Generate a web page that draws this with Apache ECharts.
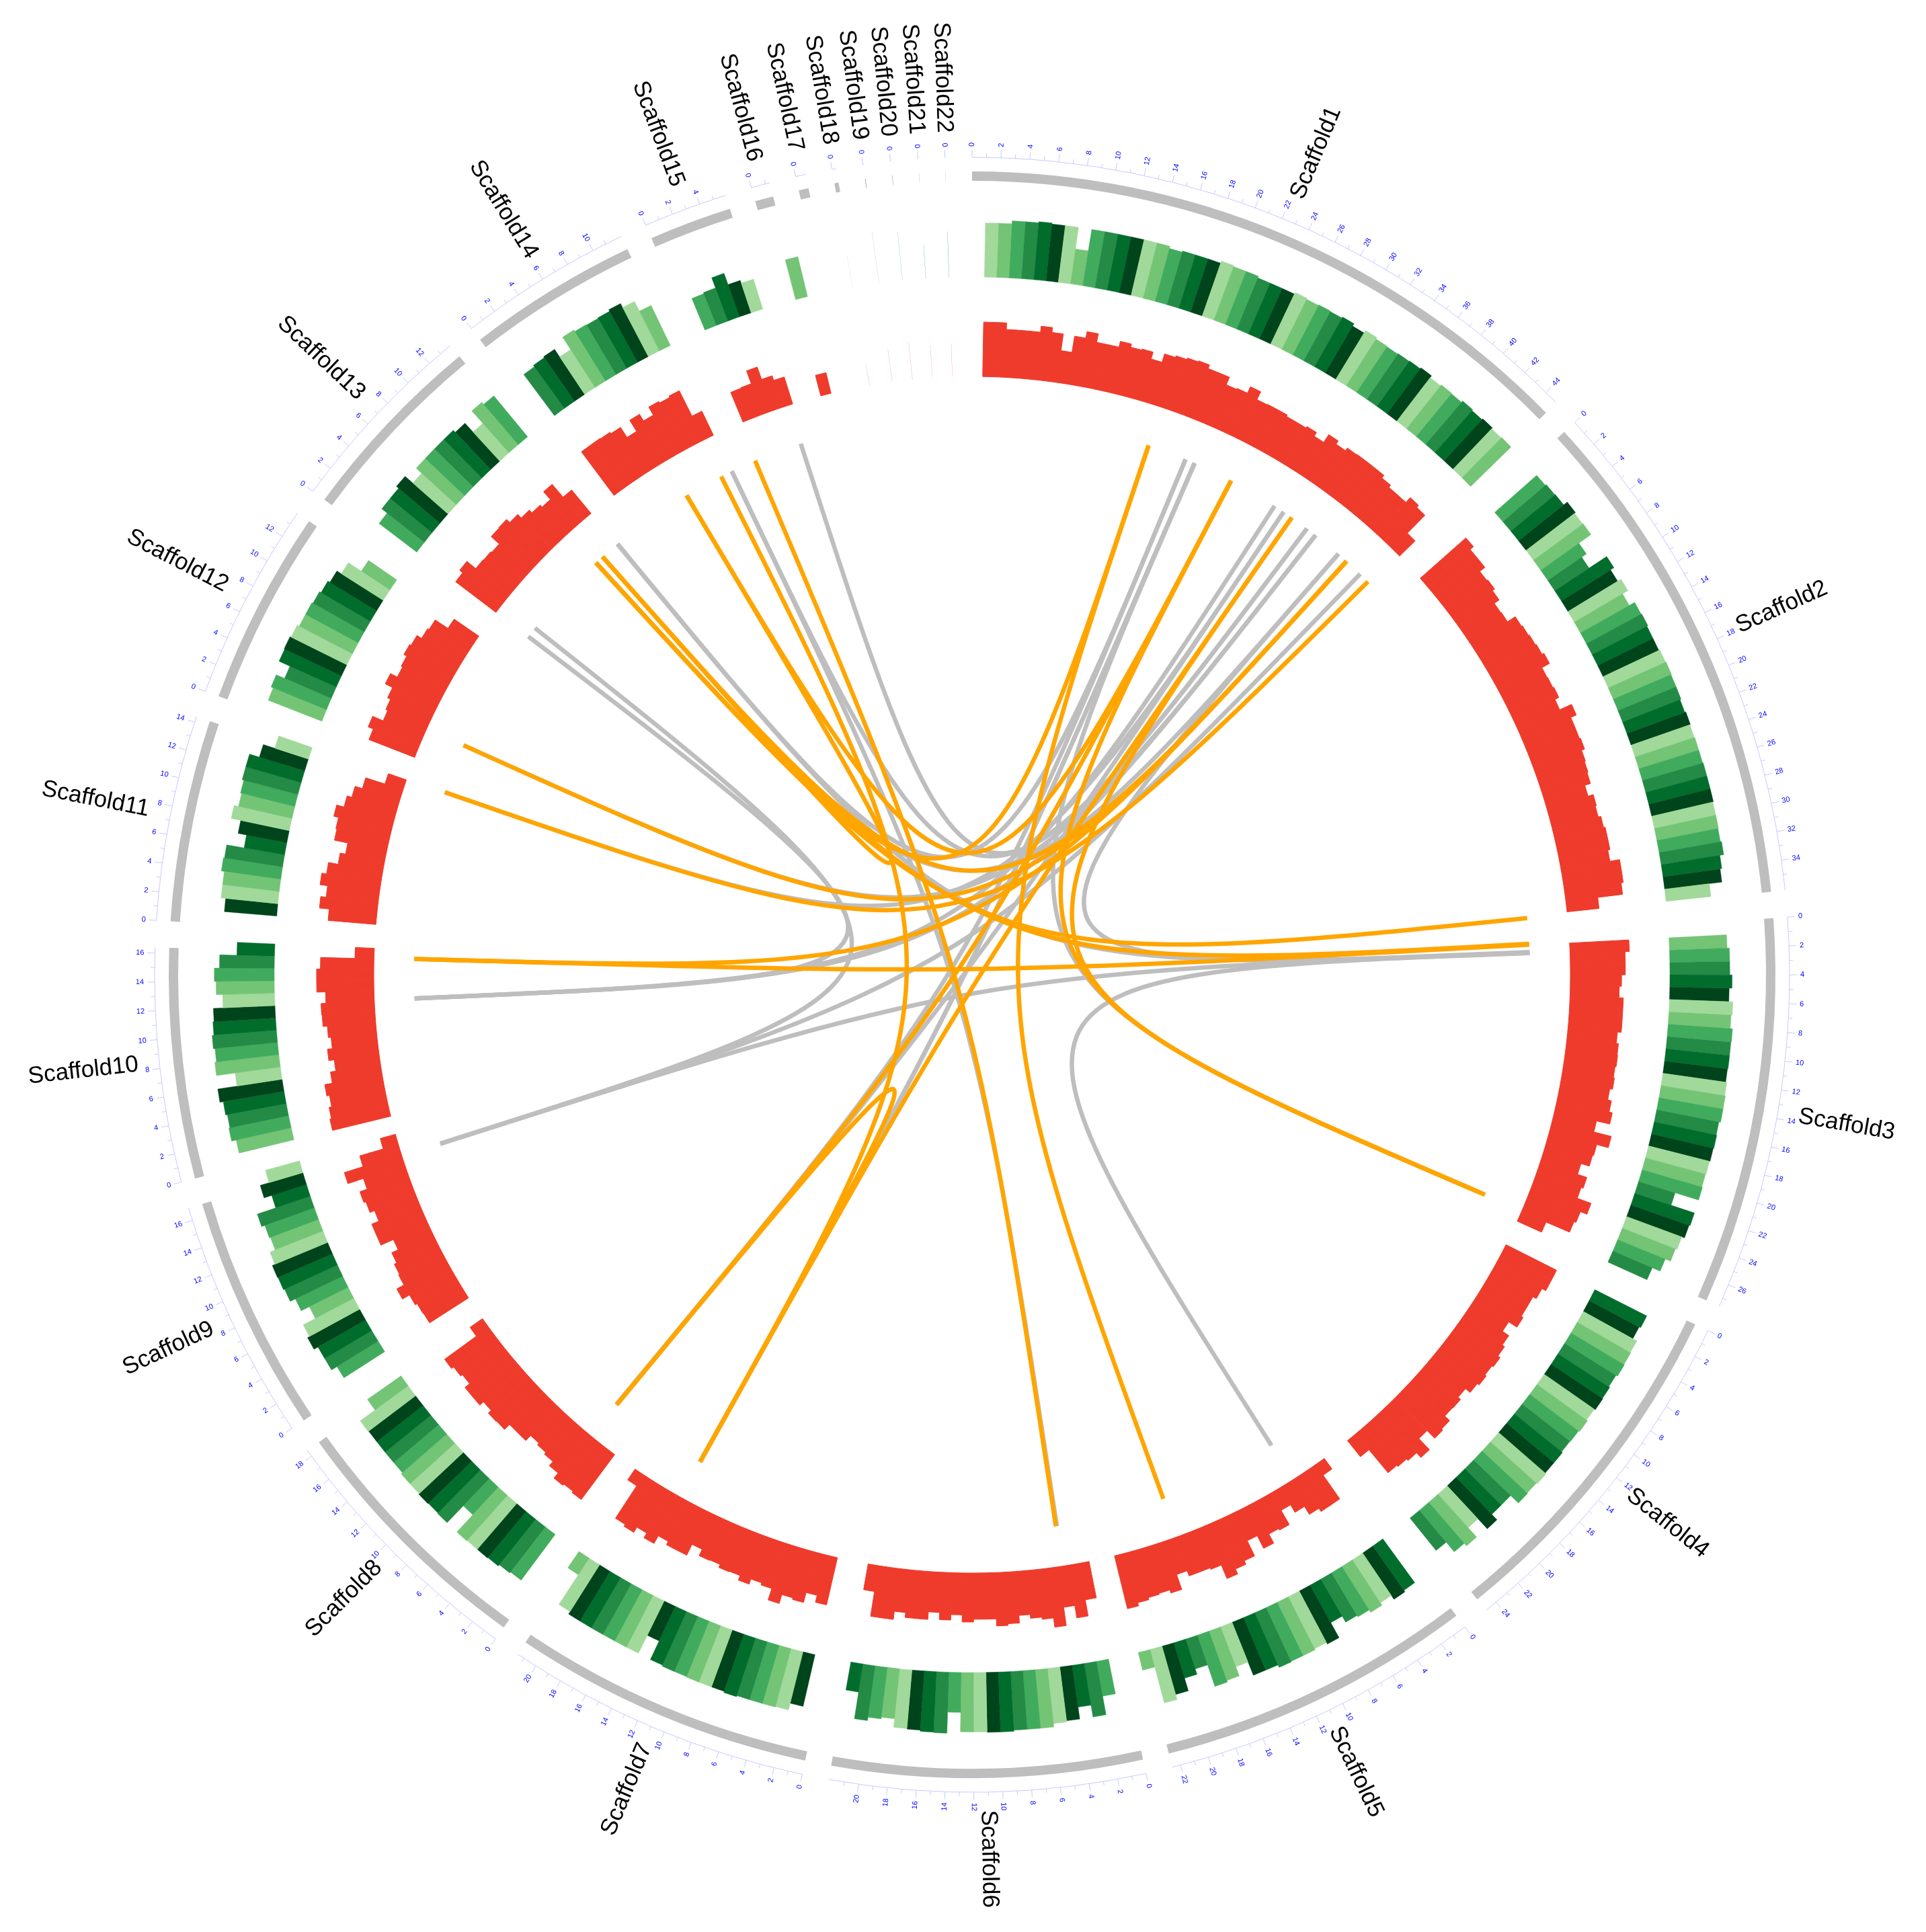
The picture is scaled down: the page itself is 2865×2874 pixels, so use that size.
<!DOCTYPE html>
<html>
<head>
<meta charset="utf-8">
<title>Scaffold circos</title>
<script src="https://cdn.jsdelivr.net/npm/echarts@6/dist/echarts.min.js"></script>
<style>
html, body { margin: 0; padding: 0; background: #fff; }
#chart { width: 2865px; height: 2874px; }
</style>
</head>
<body>
<div id="chart"></div>
<script>
// scaffolds, lengths in Mb
const scaffoldNames = ['Scaffold1','Scaffold2','Scaffold3','Scaffold4','Scaffold5','Scaffold6','Scaffold7','Scaffold8','Scaffold9','Scaffold10','Scaffold11','Scaffold12','Scaffold13','Scaffold14','Scaffold15','Scaffold16','Scaffold17','Scaffold18','Scaffold19','Scaffold20','Scaffold21','Scaffold22'];
const scaffoldLengths = [45,36.1,27.6,24.9,22.6,22.1,21.5,18.5,16.9,16.4,14.4,13.9,13.9,12.2,5.9,1.3,0.7,0.3,0.06,0.04,0.02,0.015];
const gapMb = 1.86;

// inner histogram, one value per Mb window, windows start at 1 Mb
const redValues = [
  [100,100,88,88,88,99,90,59,89,101,85,85,96,90,92,79,95,98,101,103,96,96,81,83,96,80,81,81,78,78,81,73,90,83,89,90,90,90,84,79,79,91,86,40],
  [112,104,104,92,94,89,78,79,96,98,100,102,106,90,91,93,85,109,98,98,100,94,92,90,79,89,87,92,95,95,91,109,109,105,59],
  [109,101,101,94,90,98,98,98,91,95,96,94,96,91,98,104,79,112,90,88,72,90,86,113,100,96,49],
  [104,104,96,89,89,93,75,89,94,99,96,99,95,84,90,89,101,104,84,112,100,96,93,38],
  [24,77,77,70,53,37,67,64,83,57,88,95,105,78,75,75,65,94,88,90,94,100],
  [68,98,75,109,92,88,81,95,98,85,85,90,77,87,74,88,88,79,94,94,48],
  [89,76,95,92,109,87,83,93,84,85,79,80,67,89,89,82,98,88,99,95,24],
  [103,100,103,91,81,77,73,86,86,99,100,93,102,102,91,95,100,28],
  [85,86,90,105,90,88,83,70,95,95,81,90,94,80,110,74,29],
  [110,107,102,107,93,83,93,84,89,97,98,89,105,105,98,35],
  [88,106,96,110,101,83,73,98,100,109,95,86,72,35],
  [90,100,79,83,89,104,90,93,99,96,86,83,55],
  [93,100,79,78,76,96,97,89,80,73,68,87,56],
  [100,100,99,96,74,98,84,101,98,101,49],
  [59,60,85,61,52],
  [39]
];

// outer histogram, same windows
const greenValues = [
  [95,95,100,100,102,100,100,62,100,100,100,100,100,100,96,98,98,98,102,100,100,97,97,97,100,98,99,98,100,95,100,97,96,97,98,100,96,98,97,100,98,100,98,99],
  [98,100,101,109,107,108,82,72,109,102,109,98,109,110,108,108,110,111,110,110,108,110,109,110,110,111,111,111,110,110,109,111,104,101,79],
  [101,105,105,109,104,111,109,113,112,112,111,113,114,114,111,112,111,110,109,110,67,110,108,103,100,90,75],
  [102,99,107,108,109,106,108,109,107,109,107,106,108,108,110,108,109,90,90,103,79,101,95,73],
  [95,98,90,95,90,87,75,105,102,104,104,105,100,100,75,92,95,55,65,88,97,32],
  [62,95,74,95,97,103,103,103,105,105,104,104,70,107,106,104,103,88,91,97,50],
  [93,105,106,106,106,108,106,106,106,105,105,103,67,102,102,102,102,102,102,97,35],
  [100,102,105,106,106,107,66,107,106,107,106,106,103,103,103,103,104,72],
  [85,96,96,104,100,76,92,102,104,105,100,90,92,98,64,78,62],
  [99,107,105,108,114,80,113,110,113,110,108,91,102,105,96,66],
  [92,100,100,105,103,72,87,104,96,98,101,101,83,62],
  [101,105,89,110,111,109,105,105,103,100,96,87,60],
  [83,95,95,100,82,95,95,95,95,90,69,98,93],
  [90,93,95,79,105,102,101,102,105,97,78],
  [60,62,81,60,55],
  [72]
];

// very short scaffolds (Scaffold18 to Scaffold22), hairline marks only
const thinIndexes = [17,18,19,20,21];
const thinRed = [40,60,70,60,60];
const thinGreen = [55,90,85,60,80];
const thinWidth = 0.012;

// links: scaffold number, position, scaffold number, position
const grayLinks = [
  [15,5.57,1,36.4],[14,12.1,6,3.5],[5,4.56,3,1.75],[9,15.87,3,1.7],[13,2.13,9,15.87],
  [13,1.04,10,12.1],[10,12.1,1,32.4],[13,14.1,3,1.8],[1,33.5,8,3.86],[1,23.2,7,16.96],
  [1,22.2,8,3.9],[10,12.1,1,37.5],[9,15.87,1,43.5],[7,16.96,1,23.2],
  [3,1.75,1,40.5],[3,26.9,1,23.2],[12,3.95,1,37.5],[11,15.08,1,33.5],
  [1,22.2,13,14.1],[1,36.4,14,12.1],[13,11.2,1,40.5]
];
const orangeLinks = [
  [1,18.2,5,16.8],[6,3.6,15,0.63],[3,26.9,1,34.5],[3,0.95,10,16.1],[2,36.2,13,11.2],
  [3,0.85,13,12.1],[7,16.96,8,3.86],[14,6.9,13,12.1],[14,10.9,7,16.96],[1,44.6,11,15.08],
  [1,41.6,12,3.95],[1,27.3,14,6.9],[10,16.1,1,41.6],[8,3.86,1,27.3],[7,16.96,1,34.5],
  [3,26.9,1,27.3],[1,18.2,13,11.2],[13,12.1,1,41.6]
];

const greens = ['#a1d99b','#74c476','#41ab5d','#238b45','#006d2c','#00441b'];
const redColor = '#ef3b2c';
const grayColor = '#bebebe';
const orangeColor = '#ffa500';
const tickColor = '#c9c9ff';
const tickTextColor = '#0000ff';

const redR = [890, 971];
const greenR = [1038, 1123];
const bandR = [1181, 1195];
const tickR = [1216, 1222, 1227];
const tickLabelR = 1232;
const nameR = 1248;
const nameShiftY = -5;
const linkR = 830;

const starts = [];
let genomeTotal = 0;
scaffoldLengths.forEach(function (len) {
  starts.push(genomeTotal);
  genomeTotal += len + gapMb;
});

// windows for both histograms, green colours keep cycling across scaffolds
const redRows = [];
const greenRows = [];
let colourIndex = 0;
scaffoldNames.forEach(function (name, i) {
  (redValues[i] || []).forEach(function (v, j) {
    redRows.push([starts[i] + 1 + j, starts[i] + 2 + j, v]);
  });
  (greenValues[i] || []).forEach(function (v, j) {
    greenRows.push([starts[i] + 1 + j, starts[i] + 2 + j, v, colourIndex % 6]);
    colourIndex++;
  });
});
thinIndexes.forEach(function (s, n) {
  redRows.push([starts[s], starts[s] + thinWidth, thinRed[n]]);
  greenRows.push([starts[s], starts[s] + thinWidth, thinGreen[n], n % 6]);
});

const bandRows = scaffoldLengths.map(function (len, i) { return [starts[i], starts[i] + len]; });

const tickRows = [];
scaffoldLengths.forEach(function (len, i) {
  const last = Math.max(0, Math.floor(len - 0.3));
  for (let m = 0; m <= last; m++) {
    tickRows.push([starts[i] + m, m % 2 === 0 ? 1 : 0, m]);
  }
});

const nameRows = scaffoldLengths.map(function (len, i) { return [starts[i] + len / 2, i]; });

function pos(s, p) { return starts[s - 1] + p; }

function polarParts(api, a0, a1, r0, r1) {
  const c = api.coord([0, 0]);
  const p0 = api.coord([r1, a0]);
  const p1 = api.coord([r1, a1]);
  return {
    cx: c[0], cy: c[1], r0: r0, r: r1,
    startAngle: Math.atan2(p0[1] - c[1], p0[0] - c[0]),
    endAngle: Math.atan2(p1[1] - c[1], p1[0] - c[0]),
    clockwise: true
  };
}

function renderRed(params, api) {
  const r1 = redR[0] + api.value(2) / 100 * (redR[1] - redR[0]);
  const thin = api.value(1) - api.value(0) < 0.1;
  return {
    type: 'sector',
    shape: polarParts(api, api.value(0), api.value(1), redR[0], r1),
    style: thin ? { fill: redColor } : { fill: redColor, stroke: redColor, lineWidth: 1 }
  };
}

function renderGreen(params, api) {
  const r1 = greenR[0] + api.value(2) / 100 * (greenR[1] - greenR[0]);
  const col = greens[api.value(3)];
  const thin = api.value(1) - api.value(0) < 0.1;
  return {
    type: 'sector',
    shape: polarParts(api, api.value(0), api.value(1), greenR[0], r1),
    style: thin ? { fill: col } : { fill: col, stroke: col, lineWidth: 0.4 }
  };
}

function renderBand(params, api) {
  return {
    type: 'sector',
    shape: polarParts(api, api.value(0), api.value(1), bandR[0], bandR[1]),
    style: { fill: grayColor }
  };
}

function renderAxisArc(params, api) {
  const s = polarParts(api, api.value(0), api.value(1), 0, tickR[0]);
  return {
    type: 'arc',
    shape: { cx: s.cx, cy: s.cy, r: tickR[0], startAngle: s.startAngle, endAngle: s.endAngle, clockwise: true },
    style: { stroke: tickColor, lineWidth: 1, fill: 'none' }
  };
}

function radialText(api, a, r, txt, font, colour, shiftY) {
  const p = api.coord([r, a]);
  const c = api.coord([0, 0]);
  const deg = Math.atan2(p[0] - c[0], c[1] - p[1]) * 180 / Math.PI;
  const theta = deg < 0 ? deg + 360 : deg;
  const right = theta < 180;
  const rot = (right ? 90 - theta : 270 - theta) * Math.PI / 180;
  return {
    type: 'text',
    x: p[0], y: p[1] + shiftY, rotation: rot,
    style: { text: txt, font: font, fill: colour, align: right ? 'left' : 'right', verticalAlign: 'middle' }
  };
}

function renderTick(params, api) {
  const a = api.value(0);
  const major = api.value(1) === 1;
  const p0 = api.coord([tickR[0], a]);
  const p1 = api.coord([major ? tickR[2] : tickR[1], a]);
  const kids = [{
    type: 'line',
    shape: { x1: p0[0], y1: p0[1], x2: p1[0], y2: p1[1] },
    style: { stroke: tickColor, lineWidth: 1 }
  }];
  if (major) {
    kids.push(radialText(api, a, tickLabelR, String(api.value(2)), '11px "Liberation Sans", Arial, sans-serif', tickTextColor, 0));
  }
  return { type: 'group', children: kids };
}

function renderName(params, api) {
  return radialText(api, api.value(0), nameR, scaffoldNames[api.value(1)], '35px "Liberation Sans", Arial, sans-serif', '#000', nameShiftY);
}

function linkRenderer(colour) {
  return function (params, api) {
    const a = pos(api.value(0), api.value(1));
    const b = pos(api.value(2), api.value(3));
    const p0 = api.coord([linkR, a]);
    const p1 = api.coord([linkR, b]);
    const c = api.coord([0, 0]);
    return {
      type: 'bezierCurve',
      shape: { x1: p0[0], y1: p0[1], x2: p1[0], y2: p1[1], cpx1: c[0], cpy1: c[1], cpx2: c[0], cpy2: c[1] },
      style: { stroke: colour, lineWidth: 6.5, fill: 'none' }
    };
  };
}

function customSeries(rows, render, z) {
  return { type: 'custom', coordinateSystem: 'polar', data: rows, renderItem: render, silent: true, z: z, animation: false };
}

const chart = echarts.init(document.getElementById('chart'), null, { renderer: 'canvas' });
chart.setOption({
  backgroundColor: '#fff',
  animation: false,
  polar: { center: [1446, 1450], radius: 1300 },
  angleAxis: {
    type: 'value', min: 0, max: genomeTotal, startAngle: 90, clockwise: true,
    axisLine: { show: false }, axisTick: { show: false }, axisLabel: { show: false }, splitLine: { show: false }
  },
  radiusAxis: {
    type: 'value', min: 0, max: 1300,
    axisLine: { show: false }, axisTick: { show: false }, axisLabel: { show: false }, splitLine: { show: false }
  },
  series: [
    customSeries(bandRows, renderAxisArc, 1),
    customSeries(tickRows, renderTick, 2),
    customSeries(bandRows, renderBand, 3),
    customSeries(greenRows, renderGreen, 4),
    customSeries(redRows, renderRed, 5),
    customSeries(grayLinks, linkRenderer(grayColor), 6),
    customSeries(orangeLinks, linkRenderer(orangeColor), 7),
    customSeries(nameRows, renderName, 8)
  ]
});
</script>
</body>
</html>
